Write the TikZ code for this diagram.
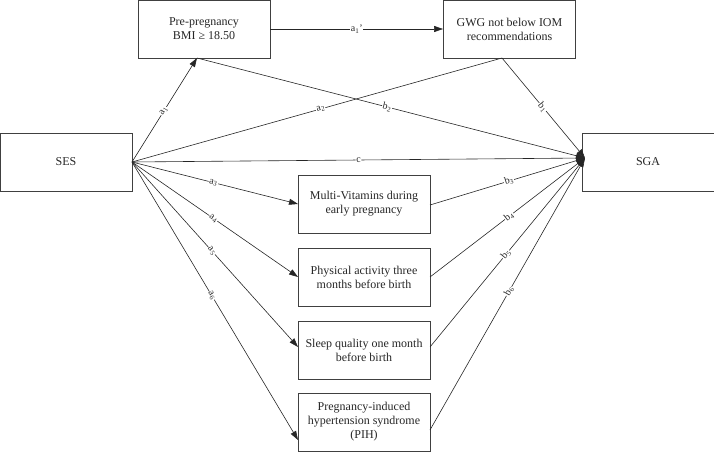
\documentclass[tikz,border=0pt]{standalone}
\usepackage{fontspec}
\setmainfont{Liberation Serif}
\usetikzlibrary{arrows.meta}
\begin{document}
\begin{tikzpicture}[x=1pt,y=-1pt,
  box/.style={draw=black!75, line width=0.8pt, minimum width=132pt, minimum height=58pt,
    inner sep=2pt, align=center, text=black!85,
    font=\fontsize{12}{14}\selectfont},
  conn/.style={draw=black!85, line width=0.6pt},
  arr/.style={conn, -{Triangle[length=9pt,width=6pt]}},
  lab/.style={sloped, fill=white, inner sep=0.6pt, text=black!85,
    font=\fontsize{10}{10}\selectfont}
]
\useasboundingbox (0,0) rectangle (714,452);
\node[box] (bmi) at (204,29) {Pre-pregnancy\\BMI ≥ 18.50};
\node[box] (gwg) at (509.5,29) {GWG not below IOM\\recommendations};
\node[box] (ses) at (66,162) {SES};
\node[box] (sga) at (648,162) {SGA};
\node[box] (mv) at (364,204) {Multi-Vitamins during\\early pregnancy};
\node[box] (pa) at (364,277) {Physical activity three\\months before birth};
\node[box] (sq) at (364,350) {Sleep quality one month\\before birth};
\node[box] (pih) at (364,422) {Pregnancy-induced\\hypertension syndrome\\(PIH)};

\coordinate (sesout) at (132,162);
\coordinate (sgain) at (585,158);
\coordinate (bmib) at (197,58);
\coordinate (gwgb) at (502,58);
\coordinate (mvin) at (298,204);
\coordinate (pain) at (298,277);
\coordinate (sqin) at (298,347);
\coordinate (pihin) at (298,440);
\coordinate (mvout) at (430,205);
\coordinate (paout) at (430,277);
\coordinate (sqout) at (430,347);
\coordinate (pihout) at (430,430);

\draw[arr] (bmi.east) -- node[lab] {a\textsubscript{1}'} (gwg.west);
\draw[arr] (sesout) -- node[lab,pos=0.49] {a\textsubscript{1}} (bmib);
\draw[conn] (sesout) -- node[lab,pos=0.51] {a\textsubscript{2}} (gwgb);
\draw[arr] (bmib) -- node[lab,pos=0.49] {b\textsubscript{2}} (sgain);
\draw[arr] (gwgb) -- node[lab,pos=0.49] {b\textsubscript{1}} (sgain);
\draw[arr] (sesout) -- node[lab] {c} (sgain);
\draw[arr] (sesout) -- node[lab,pos=0.49] {a\textsubscript{3}} (mvin);
\draw[arr] (sesout) -- node[lab,pos=0.49] {a\textsubscript{4}} (pain);
\draw[arr] (sesout) -- node[lab,pos=0.48] {a\textsubscript{5}} (sqin);
\draw[arr] (sesout) -- node[lab,pos=0.48] {a\textsubscript{6}} (pihin);
\draw[arr] (mvout) -- node[lab,pos=0.51] {b\textsubscript{3}} (sgain);
\draw[arr] (paout) -- node[lab,pos=0.51] {b\textsubscript{4}} (sgain);
\draw[arr] (sqout) -- node[lab,pos=0.49] {b\textsubscript{5}} (sgain);
\draw[arr] (pihout) -- node[lab,pos=0.51] {b\textsubscript{6}} (sgain);
\end{tikzpicture}
\end{document}
